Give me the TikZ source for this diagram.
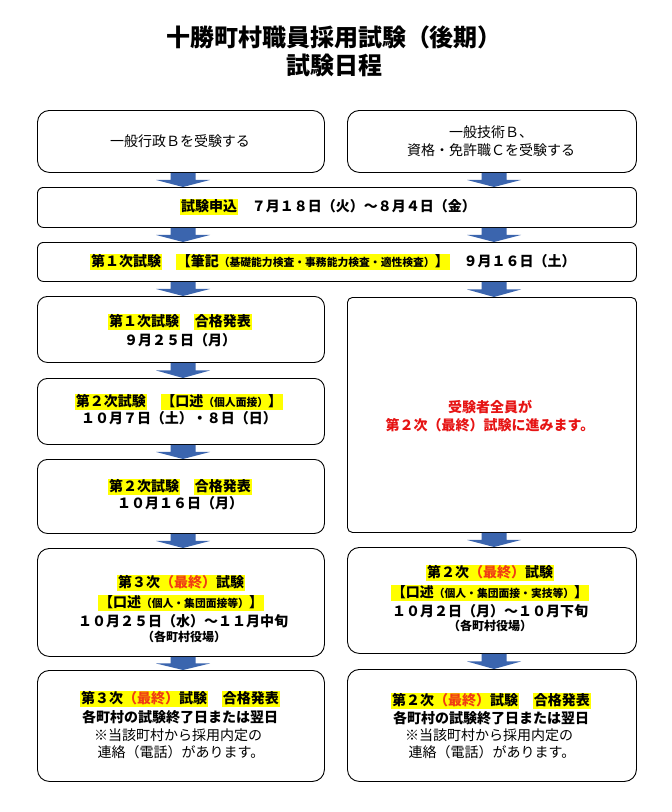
\documentclass[tikz,border=0pt]{standalone}
\usepackage{fontspec}
\setmainfont{Noto Sans CJK JP}
\usetikzlibrary{calc}
\definecolor{arrowc}{RGB}{59,101,174}
\definecolor{hly}{RGB}{255,255,0}
\definecolor{fin}{RGB}{240,60,20}
\definecolor{redt}{RGB}{230,20,20}
\setlength{\fboxsep}{0.8pt}
\newcommand\hl[1]{\colorbox{hly}{\rule[-0.2em]{0pt}{1.05em}#1}}
\newcommand\sm[1]{{\fontsize{10.8}{12}\selectfont #1}}
\newcommand\blkarrow[3]{%
  \path (#1 |- #2.south) coordinate (at) (#1 |- #3.north) coordinate (ab);
  \fill[arrowc] let \p1=(at), \p2=(ab), \p3=($(at)!0.5!(ab)$) in
    (\x1-12.5pt,\y1) -- (\x1+12.5pt,\y1) -- (\x1+12.5pt,\y3) -- (\x1+27pt,\y3)
    -- (\x1,\y2) -- (\x1-27pt,\y3) -- (\x1-12.5pt,\y3) -- cycle;}
\begin{document}
\begin{tikzpicture}[x=1pt,y=-1pt,
  box/.style={draw=black, line width=0.9pt, fill=white, inner sep=0, anchor=north west},
  main/.style={inner sep=0, font=\fontsize{14}{17}\selectfont\bfseries},
  reg/.style={inner sep=0, font=\fontsize{14}{17}\selectfont},
  ttl/.style={inner sep=0, font=\fontsize{24}{28}\selectfont\bfseries}]
\useasboundingbox[fill=white] (0,0) rectangle (672,812);
% title
\node[ttl] (t1) at (334,37) {十勝町村職員採用試験（後期）};
\node[ttl] (t2) at (334,65) {試験日程};
% boxes
\node[box, rounded corners=12pt, minimum width=287pt, minimum height=62pt] (A) at (37,110) {};
\node[box, rounded corners=12pt, minimum width=289pt, minimum height=62pt] (B) at (347,110) {};
\node[box, rounded corners=6pt, minimum width=599pt, minimum height=40pt] (C) at (37,187) {};
\node[box, rounded corners=6pt, minimum width=599pt, minimum height=39pt] (D) at (37,242) {};
\node[box, rounded corners=10pt, minimum width=287pt, minimum height=66pt] (E) at (37,296) {};
\node[box, rounded corners=5pt, minimum width=289pt, minimum height=235pt] (F) at (347,297) {};
\node[box, rounded corners=10pt, minimum width=287pt, minimum height=66pt] (G) at (37,378) {};
\node[box, rounded corners=10pt, minimum width=287pt, minimum height=74pt] (H) at (37,459) {};
\node[box, rounded corners=12pt, minimum width=287pt, minimum height=108pt] (I) at (37,548) {};
\node[box, rounded corners=12pt, minimum width=289pt, minimum height=106pt] (J) at (347,547) {};
\node[box, rounded corners=12pt, minimum width=287pt, minimum height=111pt] (K) at (37,670) {};
\node[box, rounded corners=12pt, minimum width=289pt, minimum height=112pt] (L) at (347,669) {};
% arrows
\coordinate (xl) at (183,0);
\coordinate (xr) at (494,0);
\blkarrow{xl}{A}{C}
\blkarrow{xr}{B}{C}
\blkarrow{xl}{C}{D}
\blkarrow{xr}{C}{D}
\blkarrow{xl}{D}{E}
\blkarrow{xr}{D}{F}
\blkarrow{xl}{E}{G}
\blkarrow{xl}{G}{H}
\blkarrow{xl}{H}{I}
\blkarrow{xr}{F}{J}
\blkarrow{xl}{I}{K}
\blkarrow{xr}{J}{L}
% texts
\node[reg] (a1) at (180,141) {一般行政Ｂを受験する};
\node[reg] (b1) at (491,132) {一般技術Ｂ、};
\node[reg] (b2) at (491,150) {資格・免許職Ｃを受験する};
\node[main] (c1) at (328,207) {\hl{試験申込}　７月１８日（火）～８月４日（金）};
\node[main] (d1) at (333,262) {\hl{第１次試験}　\hl{【筆記\sm{（基礎能力検査・事務能力検査・適性検査）}】}　９月１６日（土）};
\node[main] (e1) at (180,322) {\hl{第１次試験}　\hl{合格発表}};
\node[main] (e2) at (180,340) {９月２５日（月）};
\node[main] (g1) at (179,402) {\hl{第２次試験}　\hl{【口述\sm{（個人面接）}】}};
\node[main] (g2) at (179,418) {１０月７日（土）・８日（日）};
\node[main] (h1) at (180,487) {\hl{第２次試験}　\hl{合格発表}};
\node[main] (h2) at (180,503) {１０月１６日（月）};
\node[main, text=redt] (f1) at (490,407) {受験者全員が};
\node[main, text=redt] (f2) at (490,425) {第２次（最終）試験に進みます。};
\node[main] (i1) at (181,583) {\hl{第３次\textcolor{fin}{（最終）}試験}};
\node[main] (i2) at (181,603) {\hl{【口述\sm{（個人・集団面接等）}】}};
\node[main] (i3) at (183,621) {１０月２５日（水）～１１月中旬};
\node[main, font=\fontsize{12}{14}\selectfont\bfseries] (i4) at (184,637) {（各町村役場）};
\node[main] (j1) at (490,573) {\hl{第２次\textcolor{fin}{（最終）}試験}};
\node[main] (j2) at (490,593) {\hl{【口述\sm{（個人・集団面接・実技等）}】}};
\node[main] (j3) at (490,611) {１０月２日（月）～１０月下旬};
\node[main, font=\fontsize{12}{14}\selectfont\bfseries] (j4) at (490,626) {（各町村役場）};
\node[main] (k1) at (180,699) {\hl{第３次\textcolor{fin}{（最終）}試験}　\hl{合格発表}};
\node[main] (k2) at (180,717) {各町村の試験終了日または翌日};
\node[reg] (k3) at (178,735) {※当該町村から採用内定の};
\node[reg] (k4) at (181,752) {連絡（電話）があります。};
\node[main] (l1) at (491,701) {\hl{第２次\textcolor{fin}{（最終）}試験}　\hl{合格発表}};
\node[main] (l2) at (491,718) {各町村の試験終了日または翌日};
\node[reg] (l3) at (489,735) {※当該町村から採用内定の};
\node[reg] (l4) at (492,752) {連絡（電話）があります。};
\end{tikzpicture}
\end{document}
